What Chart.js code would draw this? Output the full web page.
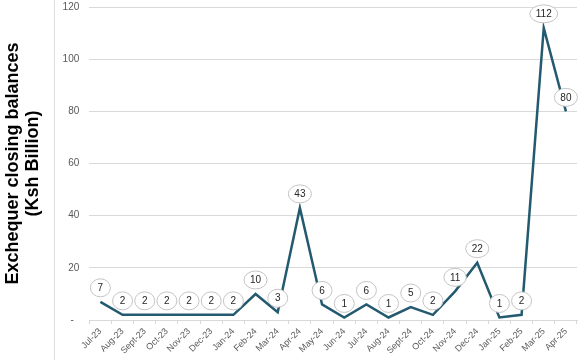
<!DOCTYPE html>
<html>
<head>
<meta charset="utf-8">
<script src="https://cdn.jsdelivr.net/npm/chart.js@4.4.1/dist/chart.umd.min.js"></script>
<style>
  html, body { margin: 0; padding: 0; background: #ffffff; }
  #wrap { position: relative; width: 579px; height: 360px; }
  #sep { position: absolute; left: 54px; top: 0; width: 1px; height: 360px; background: #dedede; }
  canvas { position: absolute; left: 0; top: 0; }
</style>
</head>
<body>
<div id="wrap">
  <div id="sep"></div>
  <canvas id="c" width="579" height="360"></canvas>
</div>
<script>
const categories = ["Jul-23","Aug-23","Sept-23","Oct-23","Nov-23","Dec-23","Jan-24","Feb-24","Mar-24","Apr-24","May-24","Jun-24","Jul-24","Aug-24","Sept-24","Oct-24","Nov-24","Dec-24","Jan-25","Feb-25","Mar-25","Apr-25"];
const balances = [7, 2, 2, 2, 2, 2, 2, 10, 3, 43, 6, 1, 6, 1, 5, 2, 11, 22, 1, 2, 112, 80];
const yTickValues = [0, 20, 40, 60, 80, 100, 120];
const yTickLabels = ["-  ", "20", "40", "60", "80", "100", "120"];
const yTitle = ["Exchequer closing balances", "(Ksh Billion)"];

const bubbleLabels = {
  id: 'bubbleLabels',
  afterDatasetsDraw(chart) {
    const ctx = chart.ctx;
    const meta = chart.getDatasetMeta(0);
    ctx.save();
    ctx.font = '10px "Liberation Sans", Arial, sans-serif';
    ctx.textAlign = 'center';
    ctx.textBaseline = 'middle';
    meta.data.forEach((pt, i) => {
      const txt = String(balances[i]);
      const w = ctx.measureText(txt).width;
      const rx = Math.max(w / 2 + 6, 10);
      const ry = 9;
      let cx = pt.x;
      const cy = pt.y - 14;
      if (cx + rx > chart.width - 1) cx = chart.width - 1 - rx;
      ctx.beginPath();
      ctx.ellipse(cx, cy, rx, ry, 0, 0, Math.PI * 2);
      ctx.fillStyle = '#ffffff';
      ctx.fill();
      ctx.lineWidth = 1;
      ctx.strokeStyle = '#c4c4c4';
      ctx.stroke();
      ctx.fillStyle = '#262626';
      ctx.fillText(txt, cx, cy + 0.5);
    });
    ctx.restore();
  }
};

new Chart(document.getElementById('c'), {
  type: 'line',
  data: {
    labels: categories,
    datasets: [{
      data: balances,
      borderColor: '#235a6f',
      borderWidth: 2.5,
      pointRadius: 0,
      tension: 0,
      fill: false,
      clip: false
    }]
  },
  options: {
    responsive: false,
    animation: false,
    layout: { padding: { left: 0, right: 2, top: 0, bottom: 2 } },
    plugins: { legend: { display: false }, tooltip: { enabled: false } },
    scales: {
      x: {
        offset: true,
        grid: { display: true, offset: true, drawOnChartArea: false, drawTicks: true, tickLength: 4, color: '#d9d9d9' },
        border: { display: true, color: '#d9d9d9' },
        ticks: {
          autoSkip: false,
          maxRotation: 45,
          minRotation: 45,
          padding: 2,
          color: '#595959',
          font: { family: '"Liberation Sans", Arial, sans-serif', size: 9 }
        }
      },
      y: {
        min: 0,
        max: 120,
        afterBuildTicks(scale) { scale.ticks = yTickValues.map(v => ({ value: v })); },
        grid: { color: '#d9d9d9', drawTicks: false },
        border: { display: false },
        ticks: {
          padding: 10,
          color: '#595959',
          font: { family: '"Liberation Sans", Arial, sans-serif', size: 10 },
          callback: (v) => yTickLabels[yTickValues.indexOf(v)]
        },
        afterFit(scale) { scale.paddingTop = 7; },
        title: {
          display: true,
          text: yTitle,
          color: '#000000',
          font: { family: '"Liberation Sans", Arial, sans-serif', size: 18, weight: 'bold', lineHeight: 1.1 },
          padding: { top: 3, bottom: 10 }
        }
      }
    }
  },
  plugins: [bubbleLabels]
});
</script>
</body>
</html>
